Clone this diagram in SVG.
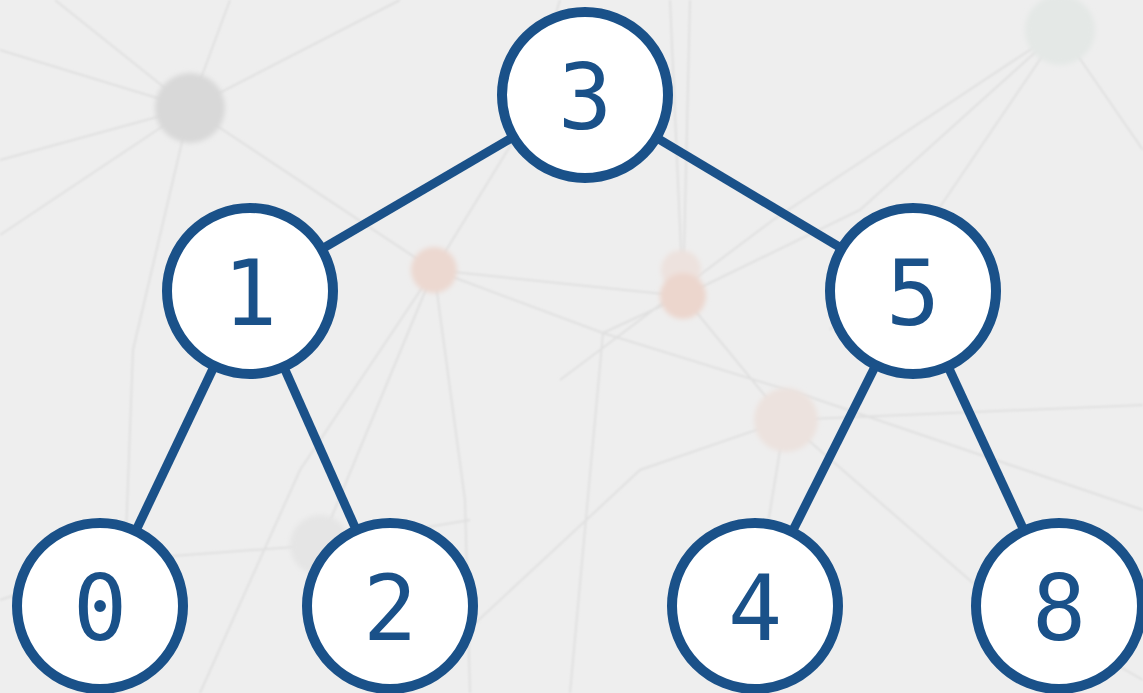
<svg xmlns="http://www.w3.org/2000/svg" width="1143" height="693" viewBox="0 0 1143 693">
<defs>
<filter id="soft" x="-20%" y="-20%" width="140%" height="140%"><feGaussianBlur stdDeviation="1"/></filter>
<filter id="blur" x="-50%" y="-50%" width="200%" height="200%"><feGaussianBlur stdDeviation="2.5"/></filter>
<style>
.bgline{stroke:#e0e0e0;stroke-width:2;fill:none}
.edge{stroke:#1a5189;stroke-width:9;stroke-linecap:butt}
.node circle{fill:#ffffff;stroke:#1a5189;stroke-width:10}
.node text{font-family:"DejaVu Sans Mono","Liberation Mono",monospace;font-size:90px;fill:#1a5189;text-anchor:middle}
</style>
</defs>
<rect x="0" y="0" width="1143" height="693" fill="#eeeeee"/>
<g id="background" filter="url(#soft)">
<path class="bgline" d="M190 108 L0 50 M190 108 L55 0 M190 108 L230 0 M190 108 L400 0 M190 108 L0 235 M190 108 L133 350 L120 693 M190 108 L434 270 M434 270 L520 130 L560 0 M434 270 L683 296 M434 270 L603 333 L810 397 L1143 510 M434 270 L465 500 L470 693 M434 270 L300 470 L200 693 M603 333 L683 296 L690 0 M670 0 L683 296 M683 296 L860 210 L1060 30 M683 296 L785 420 M603 333 L570 693 M1060 30 L773 220 L560 380 M1060 30 L940 207 L830 330 M1060 30 L1143 150 M785 420 L1143 405 M785 420 L640 470 L400 693 M785 420 L740 693 M785 420 L973 583 L1143 680 M0 600 L120 560 L320 545 L470 520 M320 545 L434 270 M0 160 L190 108"/>
</g>
<g id="bgdots" filter="url(#blur)">
<circle cx="190" cy="108" r="35" fill="#d8d8d8"/>
<circle cx="434" cy="270" r="23" fill="#ecd8d0"/>
<circle cx="681" cy="270" r="20" fill="#ede2de"/>
<circle cx="683" cy="296" r="23" fill="#ecd6cd"/>
<circle cx="786" cy="420" r="32" fill="#ece2de"/>
<circle cx="1060" cy="30" r="35" fill="#e4e8e6"/>
<circle cx="320" cy="545" r="30" fill="#e5e5e5"/>
</g>
<g id="connectors">
<line class="edge" x1="585" y1="95" x2="250" y2="291"/>
<line class="edge" x1="585" y1="95" x2="913" y2="291"/>
<line class="edge" x1="250" y1="291" x2="100" y2="606"/>
<line class="edge" x1="250" y1="291" x2="390" y2="606"/>
<line class="edge" x1="913" y1="291" x2="755" y2="606"/>
<line class="edge" x1="913" y1="291" x2="1059" y2="606"/>
</g>
<g id="node-3" class="node"><circle cx="585" cy="95" r="83"/><text x="585" y="129">3</text></g>
<g id="node-1" class="node"><circle cx="250" cy="291" r="83"/><text x="250" y="325">1</text></g>
<g id="node-5" class="node"><circle cx="913" cy="291" r="83"/><text x="913" y="325">5</text></g>
<g id="node-0" class="node"><circle cx="100" cy="606" r="83"/><text x="100" y="640">0</text></g>
<g id="node-2" class="node"><circle cx="390" cy="606" r="83"/><text x="390" y="640">2</text></g>
<g id="node-4" class="node"><circle cx="755" cy="606" r="83"/><text x="755" y="640">4</text></g>
<g id="node-8" class="node"><circle cx="1059" cy="606" r="83"/><text x="1059" y="640">8</text></g>
</svg>
